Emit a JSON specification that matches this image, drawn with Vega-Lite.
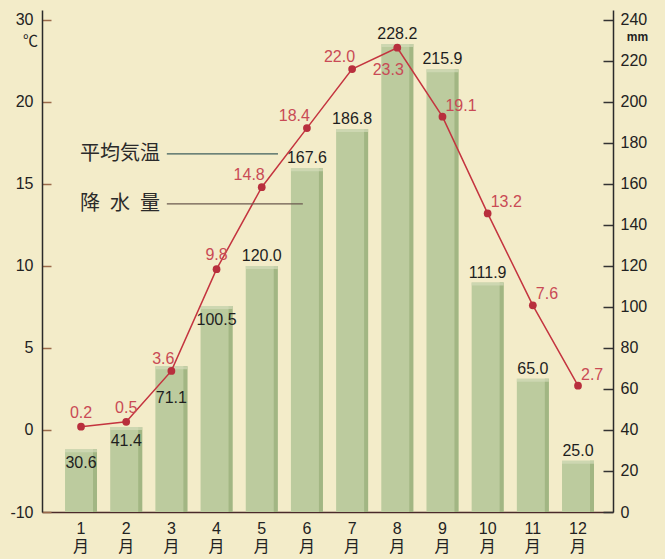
{
  "$schema": "https://vega.github.io/schema/vega-lite/v6.json",
  "width": 571,
  "height": 502,
  "autosize": {"type": "none"},
  "padding": {"left": 42, "top": 10, "right": 52, "bottom": 47},
  "background": "#f3ecc9",
  "config": {
    "view": {"stroke": null},
    "axis": {"grid": false},
    "text": {"font": "Liberation Sans"}
  },
  "datasets": {
    "climate": [
      {"month": 1, "temp": 0.2, "precip": 30.6},
      {"month": 2, "temp": 0.5, "precip": 41.4},
      {"month": 3, "temp": 3.6, "precip": 71.1},
      {"month": 4, "temp": 9.8, "precip": 100.5},
      {"month": 5, "temp": 14.8, "precip": 120.0},
      {"month": 6, "temp": 18.4, "precip": 167.6},
      {"month": 7, "temp": 22.0, "precip": 186.8},
      {"month": 8, "temp": 23.3, "precip": 228.2},
      {"month": 9, "temp": 19.1, "precip": 215.9},
      {"month": 10, "temp": 13.2, "precip": 111.9},
      {"month": 11, "temp": 7.6, "precip": 65.0},
      {"month": 12, "temp": 2.7, "precip": 25.0}
    ],
    "notes": [
      {"label": "平均気温", "x_text": 2.75, "x_start": 2.9, "x_end": 5.36, "y": 16.83},
      {"label": "降\u2002水\u2002量", "x_text": 2.75, "x_start": 2.9, "x_end": 5.91, "y": 13.78}
    ]
  },
  "layer": [
    {
      "data": {"name": "climate"},
      "encoding": {
        "x": {
          "field": "month",
          "type": "ordinal",
          "scale": {"type": "band", "paddingInner": 0.292, "paddingOuter": 0.465, "align": 0.548},
          "axis": {
            "orient": "bottom",
            "title": null,
            "labelAngle": 0,
            "ticks": false,
            "labelExpr": "[datum.label, '月']",
            "labelFont": "Liberation Sans, Noto Sans CJK JP",
            "labelFontSize": 16,
            "labelLineHeight": 18,
            "labelBaseline": "top",
            "labelPadding": 8,
            "labelColor": "#222222",
            "domainColor": "#4a2a2a",
            "domainWidth": 1.5
          }
        },
        "y": {
          "field": "precip",
          "type": "quantitative",
          "scale": {"domain": [0, 244.8], "nice": false, "zero": true},
          "axis": {
            "orient": "right",
            "values": [0, 20, 40, 60, 80, 100, 120, 140, 160, 180, 200, 220, 240],
            "tickSize": -10,
            "tickWidth": 1.5,
            "tickColor": "#333333",
            "labelPadding": 17,
            "labelFont": "Liberation Sans",
            "labelFontSize": 16,
            "labelColor": "#222222",
            "domainColor": "#2a2a2a",
            "domainWidth": 1.5,
            "title": "mm",
            "titleAngle": 0,
            "titleX": 24,
            "titleY": 26,
            "titleAlign": "center",
            "titleBaseline": "middle",
            "titleFont": "Liberation Sans",
            "titleFontSize": 12,
            "titleFontWeight": "bold",
            "titleColor": "#222222"
          }
        }
      },
      "layer": [
        {"mark": {"type": "bar", "color": "#bccb9e"}},
        {"mark": {"type": "bar", "color": "#a2b683", "width": 4, "xOffset": 14}},
        {"mark": {"type": "tick", "orient": "horizontal", "color": "#d4dbb9", "size": 32, "thickness": 3, "yOffset": 1.5}},
        {
          "transform": [{"filter": "datum.month >= 5"}],
          "mark": {"type": "text", "baseline": "middle", "dy": -10, "fontSize": 16, "color": "#1e1e1e"},
          "encoding": {"text": {"field": "precip", "type": "quantitative", "format": ".1f"}}
        },
        {
          "transform": [{"filter": "datum.month <= 2 || datum.month == 4"}],
          "mark": {"type": "text", "baseline": "middle", "dy": 14, "fontSize": 16, "color": "#1e1e1e"},
          "encoding": {"text": {"field": "precip", "type": "quantitative", "format": ".1f"}}
        },
        {
          "transform": [{"filter": "datum.month == 3"}],
          "mark": {"type": "text", "baseline": "middle", "dy": 32, "fontSize": 16, "color": "#1e1e1e"},
          "encoding": {"text": {"field": "precip", "type": "quantitative", "format": ".1f"}}
        }
      ]
    },
    {
      "data": {"name": "climate"},
      "encoding": {
        "x": {
          "field": "month",
          "type": "ordinal",
          "scale": {"type": "band", "paddingInner": 0.292, "paddingOuter": 0.465, "align": 0.548},
          "axis": null
        },
        "y": {
          "field": "temp",
          "type": "quantitative",
          "scale": {"domain": [-5, 25.6], "nice": false, "zero": false},
          "axis": {
            "orient": "left",
            "values": [-5, 0, 5, 10, 15, 20, 25],
            "labelExpr": "datum.value == 25 ? '30' : datum.value == -5 ? '-10' : datum.label",
            "tickSize": -9,
            "tickWidth": 1.5,
            "tickColor": "#9a6a4a",
            "labelPadding": 18,
            "labelFont": "Liberation Sans",
            "labelFontSize": 16,
            "labelColor": "#222222",
            "domainColor": "#2a2a2a",
            "domainWidth": 1.5,
            "title": "℃",
            "titleAngle": 0,
            "titleX": -12,
            "titleY": 30,
            "titleAlign": "center",
            "titleBaseline": "middle",
            "titleFont": "Noto Sans CJK JP",
            "titleFontSize": 15,
            "titleFontWeight": "normal",
            "titleColor": "#222222"
          }
        }
      },
      "layer": [
        {"mark": {"type": "line", "color": "#c4343f", "strokeWidth": 1.5}},
        {"mark": {"type": "point", "filled": true, "shape": "circle", "size": 60, "color": "#b82f3d", "opacity": 1}},
        {
          "transform": [{"filter": "datum.month == 1 || datum.month == 2 || datum.month == 4"}],
          "mark": {"type": "text", "align": "center", "baseline": "middle", "dy": -14, "fontSize": 16, "color": "#c94a55"},
          "encoding": {"text": {"field": "temp", "type": "quantitative", "format": ".1f"}}
        },
        {
          "transform": [{"filter": "datum.month == 3 || (datum.month >= 5 && datum.month <= 7)"}],
          "mark": {"type": "text", "align": "right", "baseline": "middle", "dx": 3, "dy": -12, "fontSize": 16, "color": "#c94a55"},
          "encoding": {"text": {"field": "temp", "type": "quantitative", "format": ".1f"}}
        },
        {
          "transform": [{"filter": "datum.month == 8"}],
          "mark": {"type": "text", "align": "center", "baseline": "middle", "dx": -9, "dy": 22, "fontSize": 16, "color": "#c94a55"},
          "encoding": {"text": {"field": "temp", "type": "quantitative", "format": ".1f"}}
        },
        {
          "transform": [{"filter": "datum.month >= 9"}],
          "mark": {"type": "text", "align": "left", "baseline": "middle", "dx": 3, "dy": -11, "fontSize": 16, "color": "#c94a55"},
          "encoding": {"text": {"field": "temp", "type": "quantitative", "format": ".1f"}}
        }
      ]
    },
    {
      "data": {"name": "notes"},
      "encoding": {
        "y": {
          "field": "y",
          "type": "quantitative",
          "scale": {"domain": [-5, 25.6], "nice": false, "zero": false},
          "axis": null
        }
      },
      "layer": [
        {
          "mark": {"type": "rule", "strokeWidth": 1.3},
          "encoding": {
            "x": {"field": "x_start", "type": "quantitative", "scale": {"domain": [0.137, 12.775], "nice": false, "zero": false}, "axis": null},
            "x2": {"field": "x_end"},
            "color": {"field": "label", "type": "nominal", "scale": {"domain": ["平均気温", "降\u2002水\u2002量"], "range": ["#3f5f5c", "#6b5a4f"]}, "legend": null}
          }
        },
        {
          "mark": {"type": "text", "align": "right", "baseline": "middle", "font": "Noto Sans CJK JP", "fontSize": 20, "color": "#2a2a2a"},
          "encoding": {
            "x": {"field": "x_text", "type": "quantitative", "axis": null},
            "text": {"field": "label"}
          }
        }
      ]
    }
  ],
  "resolve": {
    "scale": {"x": "independent", "y": "independent"},
    "axis": {"x": "independent", "y": "independent"}
  }
}
